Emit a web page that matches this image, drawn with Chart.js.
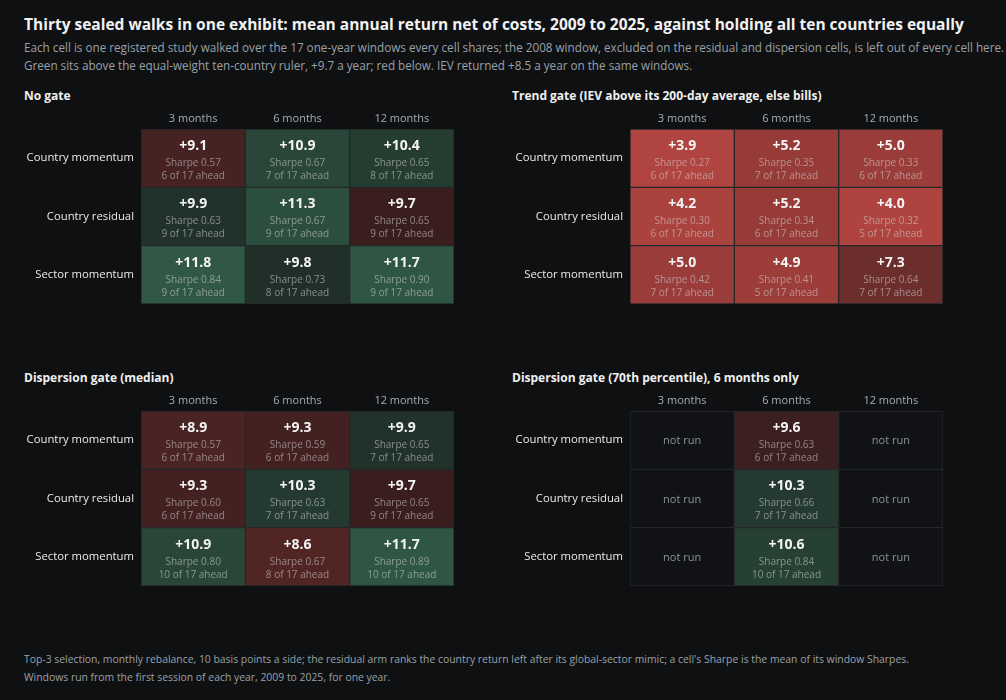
<!DOCTYPE html>
<html>
<head>
<meta charset="utf-8">
<script src="https://cdn.jsdelivr.net/npm/chart.js@4.4.1/dist/chart.umd.min.js"></script>
<style>
  html, body { margin: 0; padding: 0; background: #0f1012; }
  body { width: 1006px; height: 700px; position: relative; overflow: hidden;
         font-family: 'Open Sans', 'Noto Sans', sans-serif; }
  .t { position: absolute; white-space: nowrap; }
  #title { left: 24px; top: 13px; font-size: 15.5px; font-weight: 700; color: #f2f2f2; }
  .sub { left: 24px; font-size: 11.7px; color: #9aa1a8; }
  .ptitle { font-size: 12px; font-weight: 700; color: #f0f0f0; }
  .foot { left: 24px; font-size: 10.4px; color: #9aa1a8; }
  canvas { position: absolute; }
</style>
</head>
<body>
<div id="title" class="t">Thirty sealed walks in one exhibit: mean annual return net of costs, 2009 to 2025, against holding all ten countries equally</div>
<div class="t sub" style="top:39px">Each cell is one registered study walked over the 17 one-year windows every cell shares; the 2008 window, excluded on the residual and dispersion cells, is left out of every cell here.</div>
<div class="t sub" style="top:57px">Green sits above the equal-weight ten-country ruler, +9.7 a year; red below. IEV returned +8.5 a year on the same windows.</div>

<div class="t ptitle" style="left:24px; top:87px">No gate</div>
<div class="t ptitle" style="left:512px; top:87px">Trend gate (IEV above its 200-day average, else bills)</div>
<div class="t ptitle" style="left:24px; top:369px">Dispersion gate (median)</div>
<div class="t ptitle" style="left:512px; top:369px">Dispersion gate (70th percentile), 6 months only</div>

<canvas id="noGate" style="left:19px; top:105px" width="440" height="200"></canvas>
<canvas id="trendGate" style="left:508px; top:105px" width="440" height="200"></canvas>
<canvas id="medianGate" style="left:19px; top:387px" width="440" height="200"></canvas>
<canvas id="p70Gate" style="left:508px; top:387px" width="440" height="200"></canvas>

<div class="t foot" style="top:652px">Top-3 selection, monthly rebalance, 10 basis points a side; the residual arm ranks the country return left after its global-sector mimic; a cell's Sharpe is the mean of its window Sharpes.</div>
<div class="t foot" style="top:670px">Windows run from the first session of each year, 2009 to 2025, for one year.</div>

<script>
// Categories
const cols = ['3 months', '6 months', '12 months'];
const rows = ['Country momentum', 'Country residual', 'Sector momentum'];
const windows = 17;
const ruler = 9.7;

// No gate
const noGateReturn = [[9.1, 10.9, 10.4], [9.9, 11.3, 9.7], [11.8, 9.8, 11.7]];
const noGateSharpe = [[0.57, 0.67, 0.65], [0.63, 0.67, 0.65], [0.84, 0.73, 0.90]];
const noGateAhead = [[6, 7, 8], [9, 9, 9], [9, 8, 9]];

// Trend gate
const trendReturn = [[3.9, 5.2, 5.0], [4.2, 5.2, 4.0], [5.0, 4.9, 7.3]];
const trendSharpe = [[0.27, 0.35, 0.33], [0.30, 0.34, 0.32], [0.42, 0.41, 0.64]];
const trendAhead = [[6, 7, 6], [6, 6, 5], [7, 5, 7]];

// Dispersion gate (median)
const medianReturn = [[8.9, 9.3, 9.9], [9.3, 10.3, 9.7], [10.9, 8.6, 11.7]];
const medianSharpe = [[0.57, 0.59, 0.65], [0.60, 0.63, 0.65], [0.80, 0.67, 0.89]];
const medianAhead = [[6, 6, 7], [6, 7, 9], [10, 8, 10]];

// Dispersion gate (70th percentile), 6 months only
const p70Return = [[null, 9.6, null], [null, 10.3, null], [null, 10.6, null]];
const p70Sharpe = [[null, 0.63, null], [null, 0.66, null], [null, 0.84, null]];
const p70Ahead = [[null, 6, null], [null, 7, null], [null, 10, null]];

const fontFamily = "'Open Sans', 'Noto Sans', sans-serif";
const emptyFill = '#111215';
const cellBorder = '#25272b';

function mix(a, b, t) {
  return 'rgb(' + a.map((v, i) => Math.round(v + (b[i] - v) * t)).join(',') + ')';
}

// red below the ruler, green above it
function cellColor(v) {
  if (v === null || v === undefined) return emptyFill;
  if (v > ruler) {
    const t = Math.min(1, (v - ruler) / 2.1);
    return mix([31, 46, 39], [48, 88, 69], t);
  }
  const t = Math.min(1, (ruler - v) / 5.8);
  return mix([58, 30, 30], [176, 68, 64], t);
}

const cellText = {
  id: 'cellText',
  afterDatasetsDraw(chart) {
    const { ctx } = chart;
    const cfg = chart.options.plugins.cellText;
    ctx.save();
    ctx.textAlign = 'center';
    ctx.textBaseline = 'middle';
    chart.data.datasets.forEach((ds, r) => {
      chart.getDatasetMeta(r).data.forEach((el, c) => {
        const cx = el.x;
        const cy = (el.y + el.base) / 2;
        const v = cfg.ret[r][c];
        if (v === null) {
          ctx.fillStyle = '#8d9298';
          ctx.font = '11px ' + fontFamily;
          ctx.fillText('not run', cx, cy + 1);
          return;
        }
        ctx.fillStyle = '#f4f4f4';
        ctx.font = 'bold 14px ' + fontFamily;
        ctx.fillText((v >= 0 ? '+' : '') + v.toFixed(1), cx, cy - 12);
        ctx.fillStyle = 'rgba(215,215,215,0.55)';
        ctx.font = '10px ' + fontFamily;
        ctx.fillText('Sharpe ' + cfg.sharpe[r][c].toFixed(2), cx, cy + 5);
        ctx.fillText(cfg.ahead[r][c] + ' of ' + windows + ' ahead', cx, cy + 18);
      });
    });
    ctx.restore();
  }
};

function createGrid(id, ret, sharpe, ahead) {
  const el = document.getElementById(id);
  return new Chart(el, {
    type: 'bar',
    data: {
      labels: cols,
      datasets: rows.map((name, r) => ({
        label: name,
        // each cell takes one row unit on the stacked scale
        data: ret[r].map(() => 1),
        backgroundColor: ret[r].map(cellColor),
        borderColor: cellBorder,
        borderWidth: 1,
        borderSkipped: false,
        barPercentage: 1,
        categoryPercentage: 1
      }))
    },
    options: {
      responsive: false,
      animation: false,
      layout: { padding: { left: 0, right: 5, top: 0, bottom: 1 } },
      scales: {
        x: {
          position: 'top',
          stacked: true,
          grid: { display: false, drawTicks: false },
          border: { display: false },
          ticks: { color: '#a8adb3', padding: 4, font: { family: fontFamily, size: 11 } },
          afterFit: (s) => { s.height = 24; s.paddingLeft = 0; s.paddingRight = 0; }
        },
        y: {
          stacked: true,
          reverse: true,
          min: 0,
          max: rows.length,
          grid: { display: false, drawTicks: false },
          border: { display: false },
          afterBuildTicks: (s) => { s.ticks = rows.map((_, i) => ({ value: i + 0.5 })); },
          ticks: {
            color: '#ebebeb',
            padding: 7,
            font: { family: fontFamily, size: 11.3 },
            callback: (v, i) => rows[i]
          },
          afterFit: (s) => { s.width = 122; s.paddingTop = 0; s.paddingBottom = 0; }
        }
      },
      plugins: {
        legend: { display: false },
        tooltip: { enabled: false },
        cellText: { ret, sharpe, ahead }
      }
    },
    plugins: [cellText]
  });
}

createGrid('noGate', noGateReturn, noGateSharpe, noGateAhead);
createGrid('trendGate', trendReturn, trendSharpe, trendAhead);
createGrid('medianGate', medianReturn, medianSharpe, medianAhead);
createGrid('p70Gate', p70Return, p70Sharpe, p70Ahead);
</script>
</body>
</html>
